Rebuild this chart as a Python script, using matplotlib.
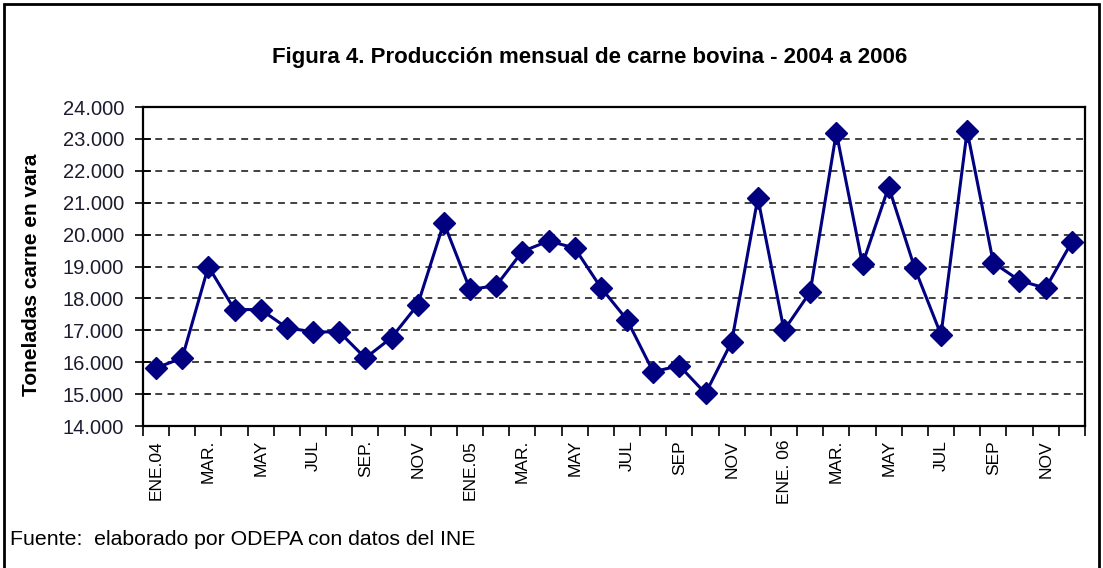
import matplotlib
matplotlib.use("Agg")
from matplotlib import pyplot as plt
from matplotlib.patches import Rectangle
import numpy as np

# Monthly production 2004-2006 (tonnes)
prod_2004 = [15820, 16130, 19000, 17650, 17650, 17080, 16950, 16950, 16130, 16770, 17800, 20370]
prod_2005 = [18280, 18400, 19470, 19800, 19580, 18340, 17330, 15700, 15890, 15020, 16640, 21150]
prod_2006 = [17000, 18200, 23200, 19070, 21500, 18940, 16860, 23250, 19120, 18560, 18320, 19770]

tick_labels = ["ENE.04", "MAR.", "MAY", "JUL", "SEP.", "NOV",
               "ENE.05", "MAR.", "MAY", "JUL", "SEP", "NOV",
               "ENE. 06", "MAR.", "MAY", "JUL", "SEP", "NOV"]

values = np.array(prod_2004 + prod_2005 + prod_2006)
x = np.arange(len(values))

plt.rcParams["font.family"] = ["Liberation Sans", "DejaVu Sans"]

fig = plt.figure(figsize=(11.03, 5.68), dpi=100)
ax = fig.add_axes([0.1296, 0.25, 0.854, 0.5616])

ax.plot(x, values, color="#000080", linewidth=2.2, marker="D",
        markersize=11, markerfacecolor="#000080", markeredgecolor="#000080")

ax.set_xlim(-0.5, len(values) - 0.5)
ax.set_ylim(14000, 24000)

yt = np.arange(14000, 24001, 1000)
ax.set_yticks(yt)
ax.set_yticklabels([f"{v // 1000}.000" for v in yt], fontsize=14.5, color="#1c1c30")
for v in yt[1:-1]:
    ax.axhline(v, color="#333333", linestyle=(0, (3.8, 3.0)), linewidth=1.3, zorder=0)

# ticks between months, labels every other month
ax.set_xticks(np.arange(-0.5, len(values), 1.0))
ax.set_xticklabels([])
ax.set_xticks(x[::2], minor=True)
ax.set_xticklabels(tick_labels, minor=True, rotation=90, fontsize=12.5, va="top")
ax.tick_params(axis="x", which="minor", length=0, pad=10)
ax.tick_params(axis="x", which="major", length=7, width=1.2, direction="out")
ax.tick_params(axis="y", length=11, width=1.2, direction="inout", pad=8)

for s in ax.spines.values():
    s.set_linewidth(1.6)
    s.set_color("black")

ax.set_ylabel("Toneladas carne en vara", fontsize=15, fontweight="bold")
ax.yaxis.set_label_coords(-0.108, 0.473)

fig.text(0.535, 0.898, "Figura 4. Producción mensual de carne bovina - 2004 a 2006",
         ha="center", va="center", fontsize=16, fontweight="bold")
fig.text(0.009, 0.05, "Fuente:  elaborado por ODEPA con datos del INE",
         ha="left", va="center", fontsize=15.3)

fig.patches.append(Rectangle((0.004, -0.01), 0.992, 1.003, transform=fig.transFigure,
                             fill=False, edgecolor="black", linewidth=2))

fig.savefig("out.png", dpi=100)
